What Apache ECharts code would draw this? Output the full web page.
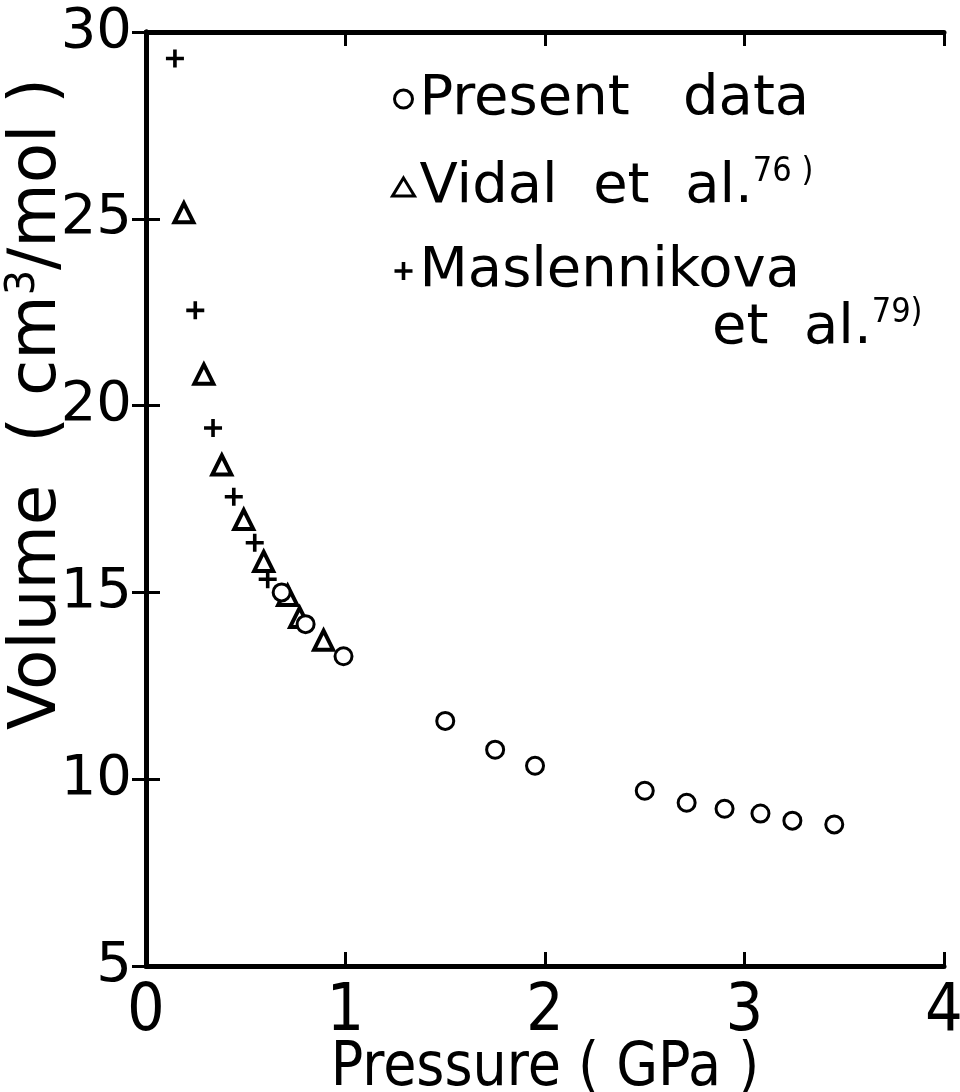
<!DOCTYPE html>
<html>
<head>
<meta charset="utf-8">
<script src="https://cdn.jsdelivr.net/npm/echarts@6/dist/echarts.min.js"></script>
<style>html,body{margin:0;padding:0;background:#fff;}#c{width:960px;height:1092px;}</style>
</head>
<body>
<div id="c"></div>
<script>
// ---- data ----
var xTicks = [0, 1, 2, 3, 4];
var yTicks = [5, 10, 15, 20, 25, 30];

var presentP = [0.68, 0.80, 0.99, 1.50, 1.75, 1.95, 2.50, 2.71, 2.90, 3.08, 3.24, 3.45];
var presentV = [15.0, 14.15, 13.29, 11.56, 10.79, 10.36, 9.69, 9.37, 9.21, 9.08, 8.89, 8.79];

var vidalP = [0.19, 0.29, 0.38, 0.49, 0.59, 0.71, 0.77, 0.89];
var vidalV = [25.16, 20.84, 18.41, 16.95, 15.83, 14.92, 14.33, 13.72];

var maslP = [0.145, 0.247, 0.336, 0.44, 0.545, 0.61];
var maslV = [29.29, 22.55, 19.4, 17.56, 16.33, 15.35];

var seriesNames = ['Present data', 'Vidal et al.', 'Maslennikova'];
// ------------------------------------

function pairs(xs, ys) { return xs.map(function (x, i) { return [x, ys[i]]; }); }

var FONT = 'DejaVu Sans';
var plusPath = 'path://M4,0h2v4h4v2h-4v4h-2v-4h-4v-2h4z';

var chart = echarts.init(document.getElementById('c'));
var axisLine = { show: true, lineStyle: { color: '#000', width: 5 } };
var tickIn = { show: true, inside: true, length: 14, lineStyle: { color: '#000', width: 3 } };

chart.setOption({
  animation: false,
  backgroundColor: '#fff',
  grid: { left: 146, right: 16, top: 32, bottom: 126, containLabel: false, outerBoundsMode: 'none' },
  xAxis: [{
    type: 'value', min: 0, max: 4, interval: 1, position: 'bottom',
    axisLine: axisLine, axisTick: tickIn, splitLine: { show: false },
    axisLabel: { color: '#000', fontFamily: 'DejaVu Sans Condensed', fontSize: 66, margin: 14,
      formatter: function (v) { return xTicks.indexOf(v) >= 0 ? String(v) : ''; } },
    name: 'Pressure ( GPa )', nameLocation: 'middle', nameGap: 73, nameMoveOverlap: false,
    nameTextStyle: { color: '#000', fontFamily: 'DejaVu Sans Condensed', fontSize: 60 }
  }, {
    type: 'value', min: 0, max: 4, interval: 1, position: 'top',
    axisLine: axisLine, axisTick: tickIn, axisLabel: { show: false }, splitLine: { show: false }
  }],
  yAxis: [{
    type: 'value', min: 5, max: 30, interval: 5, position: 'left',
    axisLine: axisLine, axisTick: tickIn, splitLine: { show: false },
    axisLabel: { color: '#000', fontFamily: FONT, fontSize: 56, margin: 14,
      formatter: function (v) { return yTicks.indexOf(v) >= 0 ? String(v) : ''; } },
    name: '{n|Volume  ( cm}{s|3}{n|/mol )}', nameLocation: 'middle', nameGap: 74, nameMoveOverlap: false,
    nameTextStyle: { padding: [0, 0, 0, 190], rich: {
      n: { color: '#000', fontFamily: FONT, fontSize: 66 },
      s: { color: '#000', fontFamily: FONT, fontSize: 40, verticalAlign: 'top', padding: [0, 0, 28, 0] }
    } }
  }, {
    type: 'value', min: 5, max: 30, interval: 5, position: 'right',
    axisLine: axisLine, axisTick: tickIn, axisLabel: { show: false }, splitLine: { show: false }
  }],
  legend: {
    orient: 'vertical', left: 386, top: 66, itemGap: 28,
    itemWidth: 22, itemHeight: 18,
    data: [
      { name: seriesNames[0], icon: 'circle', itemStyle: { color: '#fff', borderColor: '#000', borderWidth: 3 } },
      { name: seriesNames[1], icon: 'triangle', itemStyle: { color: '#fff', borderColor: '#000', borderWidth: 3 } },
      { name: seriesNames[2], icon: plusPath, itemStyle: { color: '#000', borderWidth: 0 } }
    ],
    formatter: function (name) {
      if (name === seriesNames[0]) return '{t|Present   data}';
      if (name === seriesNames[1]) return '{t|Vidal  et  al.}{s|76 )}';
      return '{t|Maslennikova}';
    },
    textStyle: { rich: {
      t: { color: '#000', fontFamily: FONT, fontSize: 56 },
      s: { color: '#000', fontFamily: 'DejaVu Sans Condensed', fontSize: 34, verticalAlign: 'top', padding: [0, 0, 30, 0] }
    } }
  },
  graphic: [{
    type: 'text', left: 712, top: 296,
    style: { rich: {
      t: { fill: '#000', fontFamily: FONT, fontSize: 56 },
      s: { fill: '#000', fontFamily: 'DejaVu Sans Condensed', fontSize: 34, verticalAlign: 'top', padding: [0, 0, 30, 0] }
    }, text: '{t|et  al.}{s|79)}' }
  }],
  series: [{
    name: seriesNames[0], type: 'scatter', symbol: 'circle', symbolSize: 17,
    itemStyle: { color: '#fff', borderColor: '#000', borderWidth: 3, opacity: 1 },
    data: pairs(presentP, presentV), z: 3
  }, {
    name: seriesNames[1], type: 'scatter', symbol: 'triangle', symbolSize: 19,
    itemStyle: { color: '#fff', borderColor: '#000', borderWidth: 4, opacity: 1 },
    data: pairs(vidalP, vidalV), z: 2
  }, {
    name: seriesNames[2], type: 'scatter', symbol: plusPath, symbolSize: 18,
    itemStyle: { color: '#000', opacity: 1 },
    data: pairs(maslP, maslV), z: 4
  }]
});
</script>
</body>
</html>
